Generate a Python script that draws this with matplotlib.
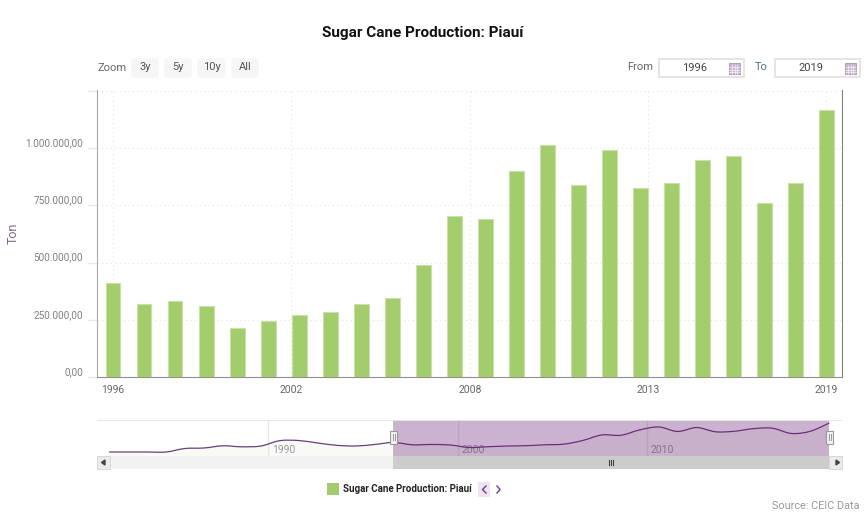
import numpy as np
import matplotlib
matplotlib.use("Agg")
import matplotlib.pyplot as plt
from matplotlib.patches import Rectangle, PathPatch, FancyBboxPatch
from matplotlib.path import Path

plt.rcParams['font.family'] = ['Roboto', 'DejaVu Sans']

W, H = 864, 529

# bars, main chart
years = list(range(1996, 2020))
production = [410000, 319000, 332000, 310000, 214000, 245000, 271000, 284000,
              319000, 345000, 489000, 703000, 690000, 900000, 1013000, 838000,
              991000, 825000, 847000, 948000, 965000, 760000, 847000, 1166000]
# the date axis puts its ticks evenly, not on the bars
year_ticks = [1996, 2001.75, 2007.5, 2013.25, 2019]
year_labels = ['1996', '2002', '2008', '2013', '2019']
value_ticks = [0, 250000, 500000, 750000, 1000000]
value_labels = ['0,00', '250.000,00', '500.000,00', '750.000,00', '1.000.000,00']

# navigator, full history
early_years = list(range(1981, 1996))
early_production = [39000, 39000, 39000, 39000, 175000, 195000, 280000, 241000,
                    272000, 479000, 486000, 389000, 300000, 272000, 331000]
nav_ticks = [1990, 2000, 2010]

GREEN = '#a3cc6c'
PURPLE = '#6b3d7d'
GREY_TEXT = '#666666'


def axes_px(fig, left, top, right, bottom):
    return fig.add_axes([left / W, 1 - bottom / H, (right - left) / W, (bottom - top) / H])


# spline through the points, like the smoothed navigator line
def smooth_path(x, y):
    x = np.asarray(x, dtype=float)
    y = np.asarray(y, dtype=float)
    verts = [(x[0], y[0])]
    codes = [Path.MOVETO]
    for i in range(len(x) - 1):
        a = max(i - 1, 0)
        b = min(i + 2, len(x) - 1)
        verts.append((x[i] + (x[i + 1] - x[a]) / 6, y[i] + (y[i + 1] - y[a]) / 6))
        verts.append((x[i + 1] - (x[b] - x[i]) / 6, y[i + 1] - (y[b] - y[i]) / 6))
        verts.append((x[i + 1], y[i + 1]))
        codes += [Path.CURVE4] * 3
    return verts, codes


fig = plt.figure(figsize=(W / 100, H / 100), dpi=100, facecolor='white')

# main chart
ax = axes_px(fig, 97, 90, 842, 377)
ax.bar(years, production, width=0.48, color=GREEN, edgecolor='#c9e0a8', linewidth=0.8, zorder=3)
ax.set_xlim(1996 - 16 / 31.02, 2019 + 15.5 / 31.02)
ax.set_ylim(0, 287 / 229 * 1000000)
ax.set_xticks(year_ticks)
ax.set_xticklabels(year_labels)
ax.set_yticks(value_ticks + [1250000])
ax.set_yticklabels(value_labels + [''], va='bottom')
ax.tick_params(axis='x', length=0, pad=6, labelsize=7.5, labelcolor=GREY_TEXT)
ax.tick_params(axis='y', length=6.5, width=1, color='#e6e6e6', pad=3.5, labelsize=7.2, labelcolor='#808080')
ax.grid(True, linestyle=(0, (1, 3)), linewidth=0.8, color='#e3e3e3', zorder=0)
ax.spines['top'].set_visible(False)
ax.spines['left'].set_color('#a8a8a8')
ax.spines['bottom'].set_color('#909090')
ax.spines['right'].set_color('#808080')
ax.set_axisbelow(True)

# navigator
nav = axes_px(fig, 97, 420, 842, 456)
nav_years = np.array(early_years + years) + 0.62
nav_values = np.array(early_production + production)
nav.set_xlim(1990 - 171 / 18.95, 1990 + 574 / 18.95)
nav.set_ylim(-3 / 25.7 * 1000000, 33 / 25.7 * 1000000)
verts, codes = smooth_path(nav_years, nav_values)
fill_verts = verts + [(nav_years[-1], nav.get_ylim()[0]), (nav_years[0], nav.get_ylim()[0]), verts[0]]
fill_codes = codes + [Path.LINETO, Path.LINETO, Path.CLOSEPOLY]
nav.add_patch(PathPatch(Path(fill_verts, fill_codes), facecolor='#f8fbf5', edgecolor='none', zorder=1))
nav.add_patch(PathPatch(Path(verts, codes), facecolor='none', edgecolor=PURPLE, linewidth=0.9, zorder=3))
for t in nav_ticks:
    nav.axvline(t, color='#e6e6e6', linewidth=1, zorder=2)
    nav.text(t + 4 / 18.95, nav.get_ylim()[0] + 0.02 * 1000000, str(t), fontsize=7.5, color='#999999',
             va='bottom', ha='left', zorder=2)
nav.axvspan(nav_years[15], nav_years[-1], color='#671674', alpha=0.33, linewidth=0, zorder=4)
nav.set_xticks([])
nav.set_yticks([])
for s in nav.spines.values():
    s.set_visible(False)
nav.patch.set_alpha(0)

# page furniture in pixel coordinates
ui = fig.add_axes([0, 0, 1, 1], zorder=5)
ui.set_xlim(0, W)
ui.set_ylim(H, 0)
ui.axis('off')
ui.patch.set_alpha(0)

ui.text(423, 32.5, 'Sugar Cane Production: Piauí', ha='center', va='center',
        fontsize=11, fontweight='bold', color='#111111')
ui.text(13, 233, 'Ton', rotation=90, ha='center', va='center', fontsize=9, color='#7b6a80')

# zoom buttons
ui.text(97, 68, 'Zoom', ha='left', va='center', fontsize=8, color=GREY_TEXT)
for x0, x1, label in [(131, 159, '3y'), (164, 192, '5y'), (197, 226, '10y'), (231, 259, 'All')]:
    ui.add_patch(FancyBboxPatch((x0 + 1, 59), x1 - x0 - 2, 18, boxstyle='round,pad=0,rounding_size=2',
                                facecolor='#f6f6f6', edgecolor='#f6f6f6', linewidth=1))
    ui.text((x0 + x1) / 2, 67, label, ha='center', va='center', fontsize=8, color='#555555')

# date range boxes
ui.text(627, 67, 'From', ha='left', va='center', fontsize=8, color=GREY_TEXT)
ui.text(755, 67, 'To', ha='left', va='center', fontsize=8, color='#4d6f8f')
for x0, x1, label in [(659, 744, '1996'), (775, 860, '2019')]:
    ui.add_patch(Rectangle((x0, 59), x1 - x0, 18, facecolor='white', edgecolor='#e2e2e2', linewidth=1.3))
    ui.text(x0 + 36, 68, label, ha='center', va='center', fontsize=8, color='#444444')
    cx = x1 - 15
    ui.add_patch(Rectangle((cx, 63), 11, 11, facecolor='#c9b8cf', edgecolor='#a892b0', linewidth=0.6))
    for k in (1, 2, 3):
        ui.plot([cx + k * 11 / 4] * 2, [65, 74], color='white', linewidth=0.4)
        ui.plot([cx, cx + 11], [65 + k * 9 / 4] * 2, color='white', linewidth=0.4)

# navigator frame and scrollbar
ui.add_patch(Rectangle((97, 419.5), 745, 1.5, facecolor='#e6e6e6', edgecolor='none'))
ui.add_patch(Rectangle((97, 455.5), 745, 13.5, facecolor='#f2f2f2', edgecolor='none'))
ui.add_patch(Rectangle((393, 455.5), 436, 13.5, facecolor='#cccccc', edgecolor='none'))
for x0, pts in [(97, [(105, 460), (105, 465), (101.5, 462.5)]), (829, [(836, 460), (836, 465), (839.5, 462.5)])]:
    ui.add_patch(Rectangle((x0, 456), 13, 13, facecolor='#ebebeb', edgecolor='#d8d8d8', linewidth=0.7))
    ui.fill([p[0] for p in pts], [p[1] for p in pts], color='#444444')
for k in (-2, 0, 2):
    ui.plot([611 + k] * 2, [459.5, 465], color='#444444', linewidth=0.8)
for cx in (393.5, 829.5):
    ui.add_patch(Rectangle((cx - 3.5, 430.5), 7, 13, facecolor='#f2f2f2', edgecolor='#999999', linewidth=0.8))
    for k in (-1, 1):
        ui.plot([cx + k] * 2, [434, 440], color='#999999', linewidth=0.7)

# legend
ui.add_patch(Rectangle((327, 483), 12, 12, facecolor=GREEN, edgecolor='none'))
ui.text(343, 489.5, 'Sugar Cane Production: Piauí', ha='left', va='center',
        fontsize=7.05, fontweight='bold', color='#222222')
ui.add_patch(Rectangle((478, 482), 12, 15, facecolor='#efe3f1', edgecolor='none'))
ui.plot([486, 482.5, 486], [486, 489.5, 493], color=PURPLE, linewidth=1)
ui.plot([497, 500, 497], [486, 489.5, 493], color=PURPLE, linewidth=1)

ui.text(860, 506, 'Source: CEIC Data', ha='right', va='center', fontsize=7.85, color='#999999')

fig.savefig('out.png', dpi=100)
